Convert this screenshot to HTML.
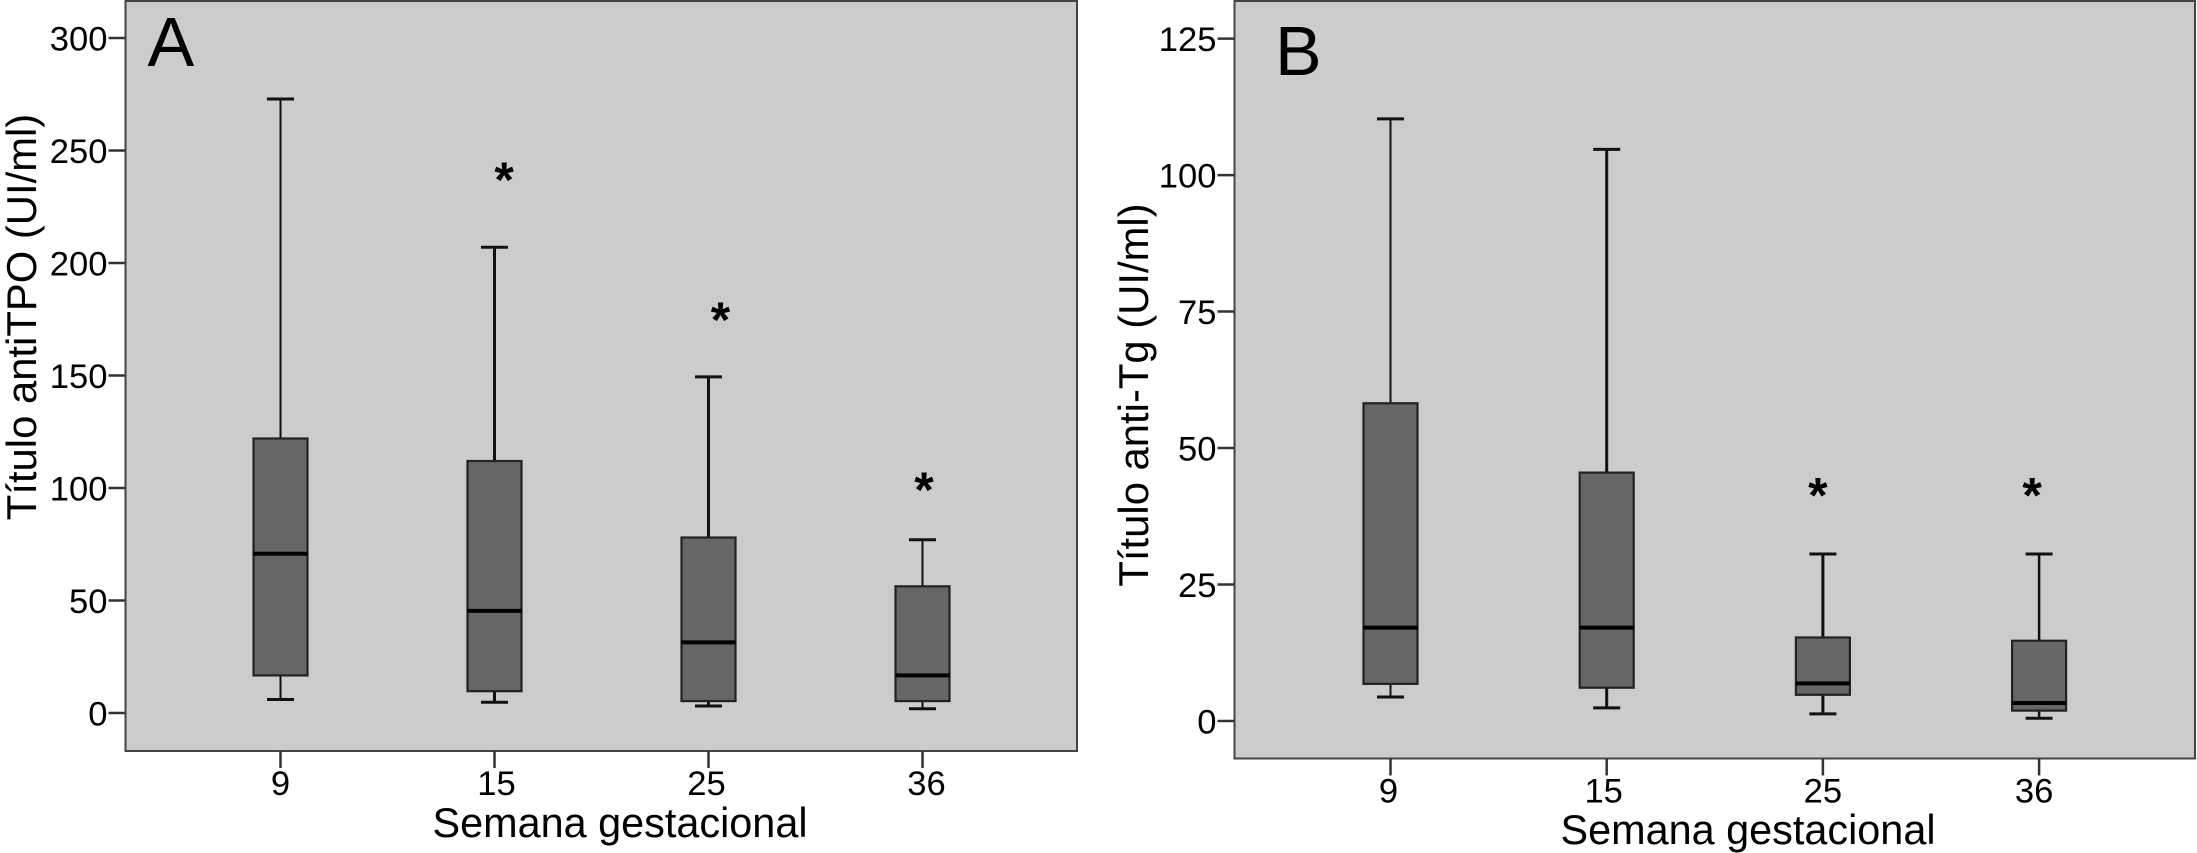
<!DOCTYPE html>
<html lang="es">
<head>
<meta charset="utf-8">
<title>Título antiTPO y anti-Tg por semana gestacional</title>
<style>
html,body{margin:0;padding:0;background:#fff;}
svg{display:block;}
text{font-family:"Liberation Sans",Arial,sans-serif;fill:#000;}
</style>
</head>
<body>
<svg id="figure" xmlns="http://www.w3.org/2000/svg" width="2197" height="853" viewBox="0 0 2197 853">
  <g id="panel-a"></g>
  <g id="panel-b"></g>
</svg>
<script>
// Shared categories
const categories = ['9', '15', '25', '36'];

// Panel A: anti-TPO titre (UI/ml)
const yTickLabelsA = [0, 50, 100, 150, 200, 250, 300];
const whiskerHighA = [272.9, 207, 149.4, 77];
const q3A = [122, 112, 78, 56.3];
const medianA = [70.8, 45.4, 31.4, 16.7];
const q1A = [16.7, 9.7, 5.3, 5.3];
const whiskerLowA = [6, 4.8, 3.1, 1.9];
const outlierA = [null, 239.5, 177.4, 101.8];

// Panel B: anti-Tg titre (UI/ml)
const yTickLabelsB = [0, 25, 50, 75, 100, 125];
const whiskerHighB = [110.3, 104.7, 30.6, 30.6];
const q3B = [58.2, 45.5, 15.3, 14.7];
const medianB = [17.1, 17.1, 6.9, 3.3];
const q1B = [6.8, 6.1, 4.8, 1.9];
const whiskerLowB = [4.4, 2.4, 1.3, 0.5];
const outlierB = [null, null, 42.4, 42.4];

const SVG_NS = 'http://www.w3.org/2000/svg';

function make(parent, tag, attrs, name, text) {
  const el = document.createElementNS(SVG_NS, tag);
  for (const key in attrs) el.setAttribute(key, attrs[key]);
  
  
  if (text !== undefined) el.textContent = text;
  parent.appendChild(el);
  return el;
}

function drawPanel(cfg) {
  const root = document.getElementById(cfg.id);
  const yScale = v => cfg.y0 - (v * (cfg.y0 - cfg.yTop)) / cfg.yTopValue;
  const xScale = i => cfg.xFirst + i * cfg.xStep;

  make(root, 'rect', {
    x: cfg.left, y: 1, width: cfg.right - cfg.left, height: cfg.bottom - 1,
    fill: '#cccccc', stroke: '#444444', 'stroke-width': 2
  }, 'plot-area');

  make(root, 'text', {
    x: cfg.letterX, y: cfg.letterY, 'font-size': 70
  }, 'panel-label', cfg.letter);

  cfg.yTicks.forEach(v => {
    const y = yScale(v);
    make(root, 'line', {
      x1: cfg.left - 17, x2: cfg.left, y1: y, y2: y, stroke: '#333333', 'stroke-width': 2.5
    }, 'y-tick-' + v);
    make(root, 'text', {
      x: cfg.left - 18, y: y + 12.5, 'font-size': 34.6, 'text-anchor': 'end'
    }, 'y-tick-label-' + v, String(v));
  });

  categories.forEach((c, i) => {
    const x = xScale(i);
    make(root, 'line', {
      x1: x, x2: x, y1: cfg.bottom, y2: cfg.bottom + 17, stroke: '#333333', 'stroke-width': 2.5
    }, 'x-tick-' + c);
    make(root, 'text', {
      x: x + cfg.xLabelShift[i], y: cfg.xLabelY, 'font-size': 34.6, 'text-anchor': 'middle'
    }, 'x-tick-label-' + c, c);

    const g = make(root, 'g', {}, 'box-week-' + c);
    const weight = cfg.whiskerWeight[i];
    const halfBox = 27;
    const halfCap = 13.5;
    make(g, 'line', {
      x1: x, x2: x, y1: yScale(cfg.high[i]), y2: yScale(cfg.q3[i]), stroke: '#111111', 'stroke-width': weight
    }, 'upper-whisker');
    make(g, 'line', {
      x1: x, x2: x, y1: yScale(cfg.q1[i]), y2: yScale(cfg.low[i]), stroke: '#111111', 'stroke-width': weight
    }, 'lower-whisker');
    make(g, 'line', {
      x1: x - halfCap, x2: x + halfCap, y1: yScale(cfg.high[i]), y2: yScale(cfg.high[i]), stroke: '#111111', 'stroke-width': 3
    }, 'upper-cap');
    make(g, 'line', {
      x1: x - halfCap, x2: x + halfCap, y1: yScale(cfg.low[i]), y2: yScale(cfg.low[i]), stroke: '#111111', 'stroke-width': 3
    }, 'lower-cap');
    make(g, 'rect', {
      x: x - halfBox, y: yScale(cfg.q3[i]), width: halfBox * 2, height: yScale(cfg.q1[i]) - yScale(cfg.q3[i]),
      fill: '#666666', stroke: '#222222', 'stroke-width': 2.2
    }, 'interquartile-box');
    make(g, 'line', {
      x1: x - halfBox, x2: x + halfBox, y1: yScale(cfg.median[i]), y2: yScale(cfg.median[i]), stroke: '#000000', 'stroke-width': 4
    }, 'median-line');

    if (cfg.outlier[i] !== null) {
      make(root, 'text', {
        x: x + cfg.asteriskShift[i], y: yScale(cfg.outlier[i]) + 23, 'font-size': 50, 'font-weight': 'bold', 'text-anchor': 'middle'
      }, 'significance-asterisk-week-' + c, '*');
    }
  });

  make(root, 'text', {
    x: cfg.xTitleX, y: cfg.xTitleY, 'font-size': 41.4, 'text-anchor': 'middle'
  }, 'x-axis-title', 'Semana gestacional');

  make(root, 'text', {
    x: 0, y: 0, 'font-size': 41.8, 'text-anchor': 'middle',
    transform: 'translate(' + cfg.yTitleX + ' ' + cfg.yTitleY + ') rotate(-90)'
  }, 'y-axis-title', cfg.yTitle);
}

drawPanel({
  id: 'panel-a', letter: 'A', letterX: 147.5, letterY: 66,
  left: 125.5, right: 1077, bottom: 751,
  y0: 713, yTop: 38, yTopValue: 300,
  xFirst: 280.5, xStep: 214,
  yTicks: yTickLabelsA,
  high: whiskerHighA, q3: q3A, median: medianA, q1: q1A, low: whiskerLowA, outlier: outlierA,
  whiskerWeight: [2, 3, 3, 2],
  xLabelShift: [0, 2, -2, 4],
  asteriskShift: [0, 9.6, 12, 1.5],
  xLabelY: 795,
  xTitleX: 620, xTitleY: 837,
  yTitle: 'Título antiTPO (UI/ml)', yTitleX: 36, yTitleY: 317
});

drawPanel({
  id: 'panel-b', letter: 'B', letterX: 1275, letterY: 75,
  left: 1234.5, right: 2195, bottom: 758.5,
  y0: 721, yTop: 38.6, yTopValue: 125,
  xFirst: 1390.5, xStep: 216.2,
  yTicks: yTickLabelsB,
  high: whiskerHighB, q3: q3B, median: medianB, q1: q1B, low: whiskerLowB, outlier: outlierB,
  whiskerWeight: [2, 3, 3, 2.5],
  xLabelShift: [-2, -3, 0, -5],
  asteriskShift: [0, 0, -5, -7],
  xLabelY: 802.5,
  xTitleX: 1748, xTitleY: 844,
  yTitle: 'Título anti-Tg (UI/ml)', yTitleX: 1148, yTitleY: 395
});
</script>
</body>
</html>
